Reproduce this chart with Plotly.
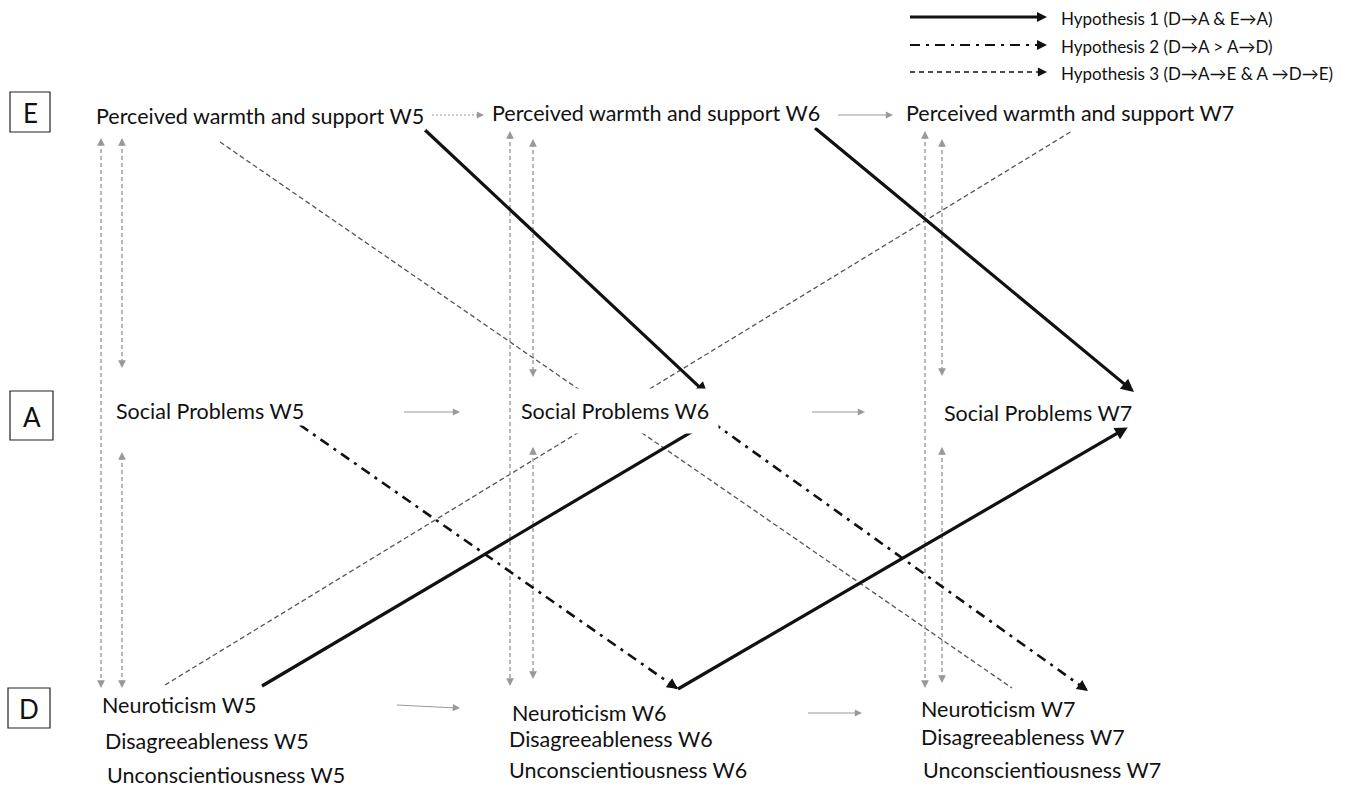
import plotly.graph_objects as go

W, H = 1350, 787
FONT = "Lato"

# ---------------- data ----------------
row_letters = ["E", "A", "D"]
waves = ["W5", "W6", "W7"]
e_labels = ["Perceived warmth and support W5", "Perceived warmth and support W6", "Perceived warmth and support W7"]
a_labels = ["Social Problems W5", "Social Problems W6", "Social Problems W7"]
d1_labels = ["Neuroticism W5", "Neuroticism W6", "Neuroticism W7"]
d2_labels = ["Disagreeableness W5", "Disagreeableness W6", "Disagreeableness W7"]
d3_labels = ["Unconscientiousness W5", "Unconscientiousness W6", "Unconscientiousness W7"]
legend_labels = ["Hypothesis 1 (D\u2192A & E\u2192A)",
                 "Hypothesis 2 (D\u2192A > A\u2192D)",
                 "Hypothesis 3 (D\u2192A\u2192E & A \u2192D\u2192E)"]

# ---------------- layout geometry (pixel space) ----------------
box_rects = [(10, 92, 50, 132), (10, 391, 53, 440), (8, 688, 50, 728)]
e_pos = [(95, 116), (491, 113), (905, 113)]
a_pos = [(115, 411), (520, 411), (943, 413)]
d1_pos = [(101, 705), (511, 713), (920, 709)]
d2_pos = [(104, 741), (508, 739), (920, 737)]
d3_pos = [(106, 775), (508, 770), (922, 770)]

# edges: (x0, y0, x1, y1)
h1_edges = [(425, 130, 708, 395), (815, 128, 1134, 392), (262, 686, 710, 421), (678, 689, 1128, 427)]
h2_edges = [(300, 425, 678, 689), (712, 422, 1088, 691)]
h3_edges = [(220, 142, 1012, 688), (165, 685, 1072, 131)]
auto_edges = [(432, 115, 484, 115, "dot"), (838, 115, 893, 115, "solid"),
              (404, 412, 460, 412, "solid"), (812, 412, 865, 412, "solid"),
              (397, 705, 460, 708, "solid"), (808, 713, 862, 713, "solid")]
# vertical correlations (x, y_top, y_bottom)
corr_edges = [(101, 138, 688), (122, 138, 368), (122, 452, 688),
              (510, 131, 686), (533, 139, 377), (533, 447, 679),
              (925, 131, 688), (942, 139, 376), (942, 447, 683)]
legend_lines = [(910, 17, 1047), (910, 45, 1047), (910, 72, 1047)]

fig = go.Figure()
ann = []

GRAY = "#999999"
DASHDOT = "10px,6px,3px,6px"
DASH3 = "5px,3px"


def line(x0, y0, x1, y1, color, width, dash="solid"):
    fig.add_trace(go.Scatter(x=[x0, x1], y=[y0, y1], mode="lines",
                             line=dict(color=color, width=width, dash=dash),
                             hoverinfo="skip", showlegend=False))


def head(x0, y0, x1, y1, color, width, size=1.0, back=7):
    dx, dy = x1 - x0, y1 - y0
    L = (dx * dx + dy * dy) ** 0.5
    ax = x1 - dx / L * back
    ay = y1 - dy / L * back
    ann.append(dict(x=x1, y=y1, ax=ax, ay=ay, xref="x", yref="y", axref="x", ayref="y",
                    text="", showarrow=True, arrowhead=2, arrowsize=size,
                    arrowwidth=width, arrowcolor=color))


# H3 thin dashed lines (no heads)
for x0, y0, x1, y1 in h3_edges:
    line(x0, y0, x1, y1, "#555555", 1.3, DASH3)

# vertical correlations
for x, yt, yb in corr_edges:
    line(x, yt + 4, x, yb - 4, GRAY, 1.4, "4px,3px")
    head(x, yb - 20, x, yb, GRAY, 1.4, 1.1)
    head(x, yt + 20, x, yt, GRAY, 1.4, 1.1)

# autoregressive
for x0, y0, x1, y1, ds in auto_edges:
    line(x0, y0, x1 - 4, y1, GRAY, 1.2, ds if ds == "solid" else "2px,2px")
    head(x0, y0, x1, y1, GRAY, 1.2, 1.2)

# H2 dash-dot
for x0, y0, x1, y1 in h2_edges:
    line(x0, y0, x1, y1, "#111111", 2.6, DASHDOT)
    head(x0, y0, x1, y1, "#111111", 2.2, 1.0, back=9)

# H1 solid
for x0, y0, x1, y1 in h1_edges:
    line(x0, y0, x1 - (x1 - x0) * 0.01, y1 - (y1 - y0) * 0.01, "#111111", 3.2)
    head(x0, y0, x1, y1, "#111111", 2.6, 1.0, back=9)

# legend lines
legend_dash = ["solid", DASHDOT, "5px,4px"]
legend_w = [3.0, 2.2, 1.4]
for (x0, y, x1), ds, lw in zip(legend_lines, legend_dash, legend_w):
    line(x0, y, x1 - 6, y, "#111111", lw, ds)
    head(x0, y, x1, y, "#111111", 2.0 if lw > 2 else 1.4, 1.0 if lw > 2 else 1.3, back=8)
for (x0, y, x1), txt in zip(legend_lines, legend_labels):
    ann.append(dict(x=1059, y=y + 1, xref="x", yref="y", text=txt, showarrow=False,
                    xanchor="left", yanchor="middle",
                    font=dict(family=FONT, size=17, color="#111111")))

# letter boxes
shapes = []
for (x0, y0, x1, y1), letter in zip(box_rects, row_letters):
    shapes.append(dict(type="rect", xref="x", yref="y", x0=x0, y0=y0, x1=x1, y1=y1,
                       line=dict(color="#222222", width=1.2), fillcolor="white", layer="above"))
    ann.append(dict(x=(x0 + x1) / 2, y=(y0 + y1) / 2 + 1, xref="x", yref="y", text=letter,
                    showarrow=False, xanchor="center", yanchor="middle",
                    font=dict(family=FONT, size=26, color="#111111")))

# node labels
def label(pos, txt, pad=1):
    ann.append(dict(x=pos[0] - pad, y=pos[1], xref="x", yref="y", text=txt, showarrow=False,
                    xanchor="left", yanchor="middle", bgcolor="white", borderpad=pad,
                    font=dict(family=FONT, size=21.5, color="#111111")))

for i in range(3):
    label(e_pos[i], e_labels[i])
    label(a_pos[i], a_labels[i], pad=9 if i == 1 else 1)
    label(d1_pos[i], d1_labels[i])
    label(d2_pos[i], d2_labels[i])
    label(d3_pos[i], d3_labels[i])

fig.update_layout(
    width=W, height=H, margin=dict(l=0, r=0, t=0, b=0),
    paper_bgcolor="white", plot_bgcolor="white",
    xaxis=dict(range=[0, W], visible=False, fixedrange=True),
    yaxis=dict(range=[H, 0], visible=False, fixedrange=True),
    annotations=ann, shapes=shapes, showlegend=False,
)

fig.write_html("out.html", config={"displayModeBar": False},
               post_script="document.body.style.margin='0';document.body.style.overflow='hidden';")
